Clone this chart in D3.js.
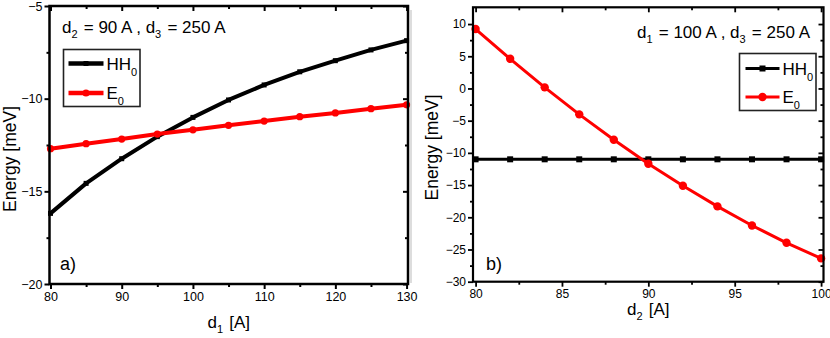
<!DOCTYPE html>
<html><head><meta charset="utf-8">
<script src="https://cdn.jsdelivr.net/npm/d3@7"></script>
<style>body{margin:0;background:#fff}svg{display:block;font-family:"Liberation Sans",Arial,sans-serif}</style>
</head><body><svg id="c" width="830" height="338"></svg>
<script>
// Panel a) : energies vs d1
const d1 = [80, 85, 90, 95, 100, 105, 110, 115, 120, 125, 130];
const hhA = [-16.19, -14.57, -13.24, -12.05, -11.01, -10.07, -9.26, -8.55, -7.95, -7.37, -6.87];
const e0A = [-12.70, -12.43, -12.18, -11.91, -11.68, -11.44, -11.21, -10.97, -10.77, -10.54, -10.33];
// Panel b) : energies vs d2
const d2 = [80, 82, 84, 86, 88, 90, 92, 94, 96, 98, 100];
const hhB = [-11.0, -11.0, -11.0, -11.0, -11.0, -11.0, -11.0, -11.0, -11.0, -11.0, -11.0];
const e0B = [9.22, 4.61, 0.17, -4.02, -7.97, -11.69, -15.11, -18.31, -21.27, -23.96, -26.38];
const xTicksA = [80, 90, 100, 110, 120, 130];
const yTicksA = [-5, -10, -15, -20];
const xTicksB = [80, 85, 90, 95, 100];
const yTicksB = [10, 5, 0, -5, -10, -15, -20, -25, -30];
const seriesNames = ["HH", "E"];

const svg = d3.select("#c");

function subText(g, parts, attrs) {
  const t = g.append("text");
  Object.entries(attrs).forEach(([k, v]) => t.attr(k, v));
  parts.forEach(p => {
    if (p.sub) {
      t.append("tspan").attr("dy", p.dy || 5).attr("font-size", p.size).text(p.t);
      t.append("tspan").attr("dy", -(p.dy || 5)).text("\u200A");
    } else t.append("tspan").text(p.t);
  });
  return t;
}

function panel(o) {
  const g = svg.append("g");
  const x = d3.scaleLinear().domain(o.xd).range([o.L, o.R]);
  const y = d3.scaleLinear().domain(o.yd).range([o.B, o.T]);
  const line = d3.line().x(d => x(d[0])).y(d => y(d[1]));
  const hh = o.xs.map((v, i) => [v, o.hh[i]]);
  const e0 = o.xs.map((v, i) => [v, o.e0[i]]);
  g.append("path").datum(hh).attr("d", line).attr("fill", "none").attr("stroke", "#000").attr("stroke-width", o.lw).attr("stroke-linejoin", "round");
  g.selectAll(".sq").data(hh).join("rect").attr("x", d => x(d[0]) - o.sq / 2).attr("y", d => y(d[1]) - o.sq / 2).attr("width", o.sq).attr("height", o.sq).attr("fill", "#000");
  g.append("path").datum(e0).attr("d", line).attr("fill", "none").attr("stroke", "#ff0000").attr("stroke-width", o.lw).attr("stroke-linejoin", "round");
  g.selectAll(".ci").data(e0).join("circle").attr("cx", d => x(d[0])).attr("cy", d => y(d[1])).attr("r", o.cr).attr("fill", "#ff0000");

  const xMinor = d3.range(o.xTicks[0], o.xTicks[o.xTicks.length - 1] + 0.001, o.xMinorStep).filter(v => !o.xTicks.some(t => Math.abs(t - v) < 1e-6));
  const yMinor = d3.range(o.yTicks[o.yTicks.length - 1], o.yTicks[0] + 0.001, o.yMinorStep).filter(v => !o.yTicks.some(t => Math.abs(t - v) < 1e-6));
  const fmt = d3.format("d");
  const axB = g.append("g").attr("transform", `translate(0,${o.B})`).call(d3.axisBottom(x).tickValues(o.xTicks).tickSize(o.tk).tickPadding(3).tickFormat(fmt));
  const axBm = g.append("g").attr("transform", `translate(0,${o.B})`).call(d3.axisBottom(x).tickValues(xMinor).tickSize(o.tkm).tickFormat(""));
  const axT = g.append("g").attr("transform", `translate(0,${o.T})`).call(d3.axisBottom(x).tickValues(o.xTicks).tickSize(o.tk).tickFormat(""));
  const axTm = g.append("g").attr("transform", `translate(0,${o.T})`).call(d3.axisBottom(x).tickValues(xMinor).tickSize(o.tkm).tickFormat(""));
  const axL = g.append("g").attr("transform", `translate(${o.L},0)`).call(d3.axisLeft(y).tickValues(o.yTicks).tickSize(o.tk).tickPadding(2).tickFormat(fmt));
  const axLm = g.append("g").attr("transform", `translate(${o.L},0)`).call(d3.axisLeft(y).tickValues(yMinor).tickSize(o.tkm).tickFormat(""));
  const axR = g.append("g").attr("transform", `translate(${o.R},0)`).call(d3.axisLeft(y).tickValues(o.yTicks).tickSize(o.tk).tickFormat(""));
  const axRm = g.append("g").attr("transform", `translate(${o.R},0)`).call(d3.axisLeft(y).tickValues(yMinor).tickSize(o.tkm).tickFormat(""));
  [axB, axBm, axT, axTm, axL, axLm, axR, axRm].forEach(a => {
    a.select(".domain").remove();
    a.selectAll("line").attr("stroke", "#000").attr("stroke-width", o.tw);
    a.selectAll("text").attr("font-size", o.tfs).attr("fill", "#000").attr("font-family", "Liberation Sans, Arial, sans-serif");
  });
  g.append("rect").attr("x", o.L).attr("y", o.T).attr("width", o.R - o.L).attr("height", o.B - o.T).attr("fill", "none").attr("stroke", "#000").attr("stroke-width", o.fw);

  g.append("text").attr("transform", `translate(${o.ylx},${(o.T + o.B) / 2 + o.yloff}) rotate(-90)`).attr("text-anchor", "middle").attr("font-size", 17.5).text("Energy [meV]");
  subText(g, [{t: "d"}, {t: o.xsub, sub: true, size: 11, dy: 5}, {t: " [A]"}], {x: (o.L + o.R) / 2, y: o.xly, "text-anchor": "middle", "font-size": 17});

  subText(g, [{t: "d"}, {t: o.ann[0], sub: true, size: 11, dy: 5}, {t: " = " + o.ann[1] + " A , d"}, {t: "3", sub: true, size: 11, dy: 5}, {t: " = 250 A"}], {x: o.annx, y: o.anny, "font-size": 17});
  g.append("text").attr("x", o.labx).attr("y", o.laby).attr("font-size", 18).text(o.label);

  const lg = o.leg;
  g.append("rect").attr("x", lg.x).attr("y", lg.y).attr("width", lg.w).attr("height", lg.h).attr("fill", "#fff").attr("stroke", "#222").attr("stroke-width", 1.6);
  const rows = [{c: "#000", m: "sq", name: seriesNames[0]}, {c: "#ff0000", m: "ci", name: seriesNames[1]}];
  rows.forEach((r, i) => {
    const yy = lg.y + lg.r0 + i * lg.dr;
    g.append("line").attr("x1", lg.x + lg.l0).attr("x2", lg.x + lg.l1).attr("y1", yy).attr("y2", yy).attr("stroke", r.c).attr("stroke-width", lg.lw);
    const mx = lg.x + (lg.l0 + lg.l1) / 2;
    if (r.m === "sq") g.append("rect").attr("x", mx - o.sq / 2).attr("y", yy - o.sq / 2).attr("width", o.sq).attr("height", o.sq).attr("fill", r.c);
    else g.append("circle").attr("cx", mx).attr("cy", yy).attr("r", o.cr).attr("fill", r.c);
    subText(g, [{t: r.name}, {t: "0", sub: true, size: 11, dy: 6}], {x: lg.x + lg.tx, y: yy + 6, "font-size": 17});
  });
}

panel({
  xd: [79.86, 130.2], yd: [-20, -5], L: 49.5, R: 408, T: 6, B: 284,
  xs: d1, hh: hhA, e0: e0A, xTicks: xTicksA, yTicks: yTicksA, xMinorStep: 5, yMinorStep: 2.5,
  lw: 4, sq: 5, cr: 3.6, tk: 5, tkm: 3, tw: 2, fw: 2.5, tfs: 12.5,
  ylx: 15.5, yloff: 14, xly: 328, xsub: "1",
  ann: ["2", "90"], annx: 62, anny: 33, label: "a)", labx: 60, laby: 270,
  leg: {x: 63.5, y: 49.5, w: 76.5, h: 57, r0: 14, dr: 29.5, l0: 5, l1: 40, lw: 4.5, tx: 43}
});
panel({
  xd: [79.85, 100.14], yd: [-30, 12.6], L: 473, R: 823.5, T: 7.3, B: 281.7,
  xs: d2, hh: hhB, e0: e0B, xTicks: xTicksB, yTicks: yTicksB, xMinorStep: 2.5, yMinorStep: 2.5,
  lw: 3, sq: 6, cr: 4.2, tk: 5, tkm: 3, tw: 1.8, fw: 2.2, tfs: 12,
  ylx: 438, yloff: 3, xly: 315, xsub: "2",
  ann: ["1", "100"], annx: 637, anny: 38, label: "b)", labx: 486, laby: 270,
  leg: {x: 739.5, y: 53.5, w: 76.5, h: 57, r0: 15, dr: 28.5, l0: 6, l1: 40, lw: 3, tx: 43}
});
svg.append("line").attr("x1", 411).attr("x2", 411).attr("y1", 10).attr("y2", 283).attr("stroke", "#bbb").attr("stroke-width", 1);
</script></body></html>
